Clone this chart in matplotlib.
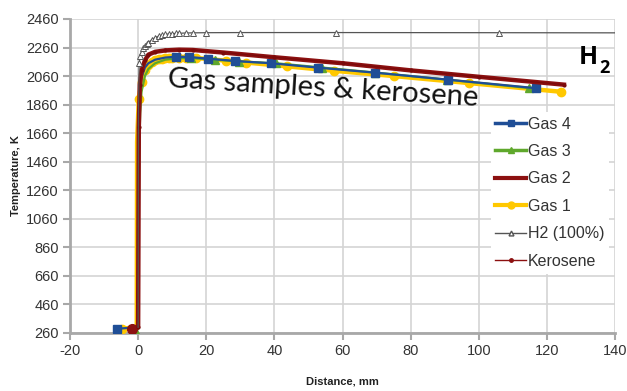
import matplotlib
matplotlib.use("Agg")
import matplotlib.pyplot as plt
from matplotlib.lines import Line2D

# ---------------- data ----------------
gas4_x = [-6.2, 0, 0.2, 0.5, 1, 2, 3, 5, 8, 11.2, 15, 20.6, 28.5, 39, 52.9, 69.6, 91, 116.9]
gas4_t = [290, 300, 1800, 1950, 2050, 2120, 2150, 2175, 2190, 2196, 2194, 2182, 2166, 2150, 2119, 2084, 2035, 1975]

gas3_x = [-1.0, 0, 0.3, 0.6, 1, 2, 3, 5, 8, 12, 15.6, 22.6, 29.7, 40.5, 54, 69.6, 90.7, 114.8]
gas3_t = [280, 290, 1500, 1800, 1950, 2060, 2110, 2150, 2175, 2185, 2186, 2175, 2162, 2150, 2120, 2085, 2035, 1976]

gas2_x = [-1.8, 0, 0.2, 0.5, 1, 2, 3, 5, 8, 12, 16, 25, 40, 60, 80, 100, 125]
gas2_t = [290, 300, 1700, 2000, 2100, 2170, 2210, 2230, 2240, 2245, 2243, 2225, 2192, 2150, 2100, 2055, 2000]

gas1_x = [-4.7, -0.4, -0.3, 0.2, 1, 2, 3, 4, 5, 6, 7, 8, 9, 10, 12, 14, 17, 25.8, 31.7, 43.8, 57.6, 75.2, 97.2, 124.2]
gas1_t = [290, 300, 1600, 1900, 2020, 2100, 2140, 2160, 2170, 2178, 2183, 2186, 2188, 2189, 2190, 2189, 2187, 2168, 2155, 2128, 2097, 2060, 2011, 1950]

h2_x = [0, 0.1, 0.3, 0.6, 1, 1.5, 2, 2.5, 3, 4, 5, 6, 7, 8, 9, 10, 11, 12, 14, 16, 20, 30, 58, 106, 140]
h2_t = [300, 1800, 2150, 2200, 2230, 2255, 2270, 2283, 2295, 2315, 2330, 2340, 2347, 2352, 2355, 2357, 2359, 2360, 2362, 2363, 2364, 2365, 2365, 2364, 2363]

kero_x = [0, 0.2, 0.5, 1, 2, 3, 5, 8, 12, 16, 25, 40, 60, 80, 100, 125]
kero_t = [300, 1700, 2000, 2100, 2170, 2210, 2230, 2240, 2245, 2243, 2225, 2192, 2150, 2100, 2055, 2000]

x_ticks = [-20, 0, 20, 40, 60, 80, 100, 120, 140]
y_ticks = [260, 460, 660, 860, 1060, 1260, 1460, 1660, 1860, 2060, 2260, 2460]
legend_labels = ['Gas 4', 'Gas 3', 'Gas 2', 'Gas 1', 'H2 (100%)', 'Kerosene']

# ---------------- style ----------------
plt.rcParams['font.family'] = ['Liberation Sans', 'DejaVu Sans']

c_blue = '#1F4E96'
c_green = '#5FA82C'
c_red = '#8C1010'
c_yellow = '#FFC800'
c_gray = '#555555'

fig = plt.figure(figsize=(6.27, 3.91), dpi=100)
ax = fig.add_axes([70 / 627, 1 - 333 / 391, 545 / 627, 314 / 391])

ax.plot(gas1_x, gas1_t, color=c_yellow, lw=3.2, marker='o', ms=6,
        markevery=[0] + list(range(3, len(gas1_x))), label='Gas 1', zorder=3)
ax.plot(gas3_x, gas3_t, color=c_green, lw=1.6, marker='^', ms=6,
        markevery=[0] + list(range(10, len(gas3_x))), label='Gas 3', zorder=4)
ax.plot(gas4_x, gas4_t, color=c_blue, lw=1.6, marker='s', ms=5.5,
        markevery=[0] + list(range(9, len(gas4_x))), label='Gas 4', zorder=5)
ax.plot(gas2_x, gas2_t, color=c_red, lw=3.2, marker='o', ms=7,
        markevery=[0], label='Gas 2', zorder=6)
ax.plot(kero_x, kero_t, color='#7A0A0A', lw=0.9, marker='o', ms=2,
        label='Kerosene', zorder=7)
ax.plot(h2_x, h2_t, color=c_gray, lw=0.9, marker='^', ms=4, mfc='white',
        mec=c_gray, mew=0.7, markevery=list(range(2, len(h2_x) - 1)),
        label='H2 (100%)', zorder=8)

ax.set_xlim(-20, 140)
ax.set_ylim(260, 2460)
ax.set_xticks(x_ticks)
ax.set_yticks(y_ticks)
ax.set_xticklabels([str(v) for v in x_ticks])
ax.set_yticklabels([str(v) for v in y_ticks])
ax.grid(True, color='#D4D4D4', lw=1.2)
ax.set_axisbelow(True)
for s in ['top', 'right']:
    ax.spines[s].set_visible(False)
for s in ['left', 'bottom']:
    ax.spines[s].set_color('#A8A8A8')
    ax.spines[s].set_linewidth(2)
ax.tick_params(axis='both', direction='out', length=5, width=1.5, color='#A8A8A8',
               labelsize=10.5, labelcolor='#333333', pad=3)

ax.set_xlabel('Distance, mm', fontsize=8, fontweight='bold', labelpad=13, color='#222222')
ax.set_ylabel('Temperature, K', fontsize=8, fontweight='bold', labelpad=4, color='#222222')

# legend
leg_handles = [
    Line2D([], [], color=c_blue, lw=2.5, marker='s', ms=5),
    Line2D([], [], color=c_green, lw=2.5, marker='^', ms=5),
    Line2D([], [], color=c_red, lw=3),
    Line2D([], [], color=c_yellow, lw=3, marker='o', ms=5),
    Line2D([], [], color=c_gray, lw=1, marker='^', ms=3.5, mfc='white', mec=c_gray),
    Line2D([], [], color=c_red, lw=1, marker='o', ms=2.5),
]
leg = ax.legend(leg_handles, legend_labels, loc='upper left', bbox_to_anchor=(0.757, 0.73),
                frameon=True, facecolor='white', edgecolor='none', framealpha=1,
                fancybox=False, fontsize=11.5, handlelength=1.9, handletextpad=0.15,
                labelspacing=0.78, borderpad=0.3)
for t in leg.get_texts():
    t.set_color('#333333')
leg.set_zorder(10)

# annotations
ax.text(8.5, 1984, 'Gas samples & kerosene', fontsize=21, family=['Lato', 'DejaVu Sans'],
        rotation=-3.5, rotation_mode='anchor', ha='left', va='baseline', color='#111111', zorder=9)
ax.text(129.5, 2145, 'H', fontsize=18, fontweight='bold', family=['Open Sans', 'DejaVu Sans'],
        ha='left', va='baseline', color='black', zorder=9)
ax.text(135.3, 2080, '2', fontsize=13, fontweight='bold', family=['Open Sans', 'DejaVu Sans'],
        ha='left', va='baseline', color='black', zorder=9)

fig.savefig('out.png', dpi=100)
